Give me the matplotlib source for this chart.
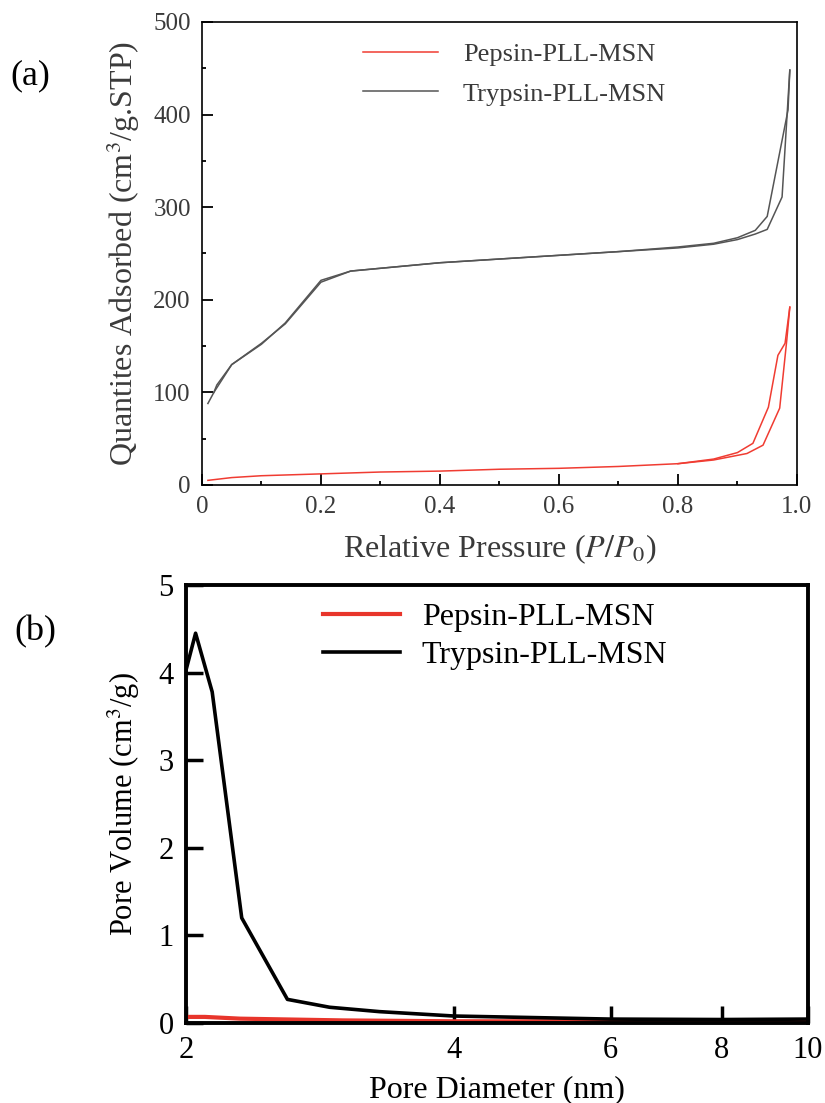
import numpy as np
import matplotlib.pyplot as plt
from matplotlib.ticker import MultipleLocator, FixedLocator, NullLocator, FixedFormatter, FuncFormatter

plt.rcParams['font.family'] = ['Liberation Serif', 'DejaVu Serif']
plt.rcParams['mathtext.fontset'] = 'stix'

# (a) N2 isotherms
tryp_ads_x = [0.01, 0.02, 0.025, 0.05, 0.1, 0.14, 0.2, 0.25, 0.3, 0.4, 0.5, 0.6, 0.7, 0.8, 0.86, 0.9, 0.93, 0.95, 0.975, 0.988]
tryp_ads_y = [88, 100, 108, 130, 153, 174, 219, 231, 234, 240, 244, 248, 252, 256, 260, 265, 271, 276, 311, 448]
tryp_des_x = [0.988, 0.985, 0.95, 0.93, 0.9, 0.86, 0.8, 0.7, 0.6, 0.5, 0.4, 0.3, 0.25, 0.2, 0.14, 0.1, 0.05, 0.03, 0.02]
tryp_des_y = [448, 405, 290, 275, 267, 261, 257, 252, 248, 244, 240, 234, 231, 221, 175, 152, 130, 110, 100]

peps_ads_x = [0.01, 0.05, 0.1, 0.2, 0.3, 0.4, 0.5, 0.6, 0.7, 0.8, 0.86, 0.916, 0.943, 0.971, 0.983, 0.988]
peps_ads_y = [5, 8, 10, 12, 14, 15, 17, 18, 20, 23, 27, 34, 43, 83, 157, 192]
peps_des_x = [0.988, 0.98, 0.968, 0.952, 0.926, 0.9, 0.86, 0.8]
peps_des_y = [192, 153, 140, 84, 45, 35, 28, 23]

# (b) pore size distribution
diam_tryp = [2.0, 2.05, 2.14, 2.31, 2.60, 2.90, 3.3, 4.0, 6.0, 8.0, 10.0]
vol_tryp = [4.03, 4.45, 3.78, 1.20, 0.27, 0.18, 0.13, 0.08, 0.045, 0.04, 0.045]
diam_peps = [2.0, 2.1, 2.3, 3.0, 4.0, 6.0, 8.0, 10.0]
vol_peps = [0.07, 0.07, 0.05, 0.03, 0.02, 0.02, 0.015, 0.01]

fig = plt.figure(figsize=(8.25, 11.03), dpi=100)

# ---- panel (a)
txt = '#3a3a3a'
ax1 = fig.add_axes([0.2448, 0.5603, 0.7212, 0.4198])
ax1.plot(peps_ads_x, peps_ads_y, color='#f03c32', lw=1.1, label='Pepsin-PLL-MSN')
ax1.plot(peps_des_x, peps_des_y, color='#f03c32', lw=1.1)
ax1.plot(tryp_ads_x, tryp_ads_y, color='#555555', lw=1.1, label='Trypsin-PLL-MSN')
ax1.plot(tryp_des_x, tryp_des_y, color='#555555', lw=1.1)
ax1.set_xlim(0, 1.0)
ax1.set_ylim(0, 500)
ax1.xaxis.set_major_locator(MultipleLocator(0.2))
ax1.xaxis.set_minor_locator(MultipleLocator(0.1))
ax1.yaxis.set_major_locator(MultipleLocator(100))
ax1.yaxis.set_minor_locator(MultipleLocator(50))
ax1.xaxis.set_major_formatter(FuncFormatter(lambda v, p: '0' if abs(v) < 1e-9 else '%.1f' % v))
ax1.tick_params(which='both', direction='in', top=False, right=False,
                labelsize=18, labelcolor=txt, width=1.3)
ax1.tick_params(which='major', length=8, pad=8)
ax1.tick_params(which='minor', length=3)
for s in ax1.spines.values():
    s.set_linewidth(1.2)
ax1.set_xlabel('Relative Pressure ($\\mathit{P/P_0}$)', fontsize=23, color=txt, labelpad=10)
ax1.set_ylabel('Quantites Adsorbed (cm$^3$/g.STP)', fontsize=23, color=txt, labelpad=8)
leg1 = ax1.legend(loc='upper left', bbox_to_anchor=(0.27, 0.955), frameon=False,
                  borderpad=0, borderaxespad=0,
                  fontsize=19, handlelength=2.85, handletextpad=0.95, labelspacing=0.6)
for t in leg1.get_texts():
    t.set_color(txt)
fig.text(0.012, 0.931, '(a)', fontsize=26, va='center')

# ---- panel (b)
ax2 = fig.add_axes([0.2255, 0.0725, 0.7539, 0.3971])
ax2.plot(diam_peps, vol_peps, color='#e8352b', lw=3, label='Pepsin-PLL-MSN')
ax2.plot(diam_tryp, vol_tryp, color='black', lw=2.6, label='Trypsin-PLL-MSN')
ax2.set_xscale('log')
ax2.set_xlim(2, 10)
ax2.set_ylim(0, 5)
ax2.xaxis.set_major_locator(FixedLocator([2, 4, 6, 8, 10]))
ax2.xaxis.set_major_formatter(FixedFormatter(['2', '4', '6', '8', '10']))
ax2.xaxis.set_minor_locator(NullLocator())
ax2.yaxis.set_major_locator(MultipleLocator(1))
ax2.tick_params(direction='in', length=12, width=2.5, labelsize=22, pad=9,
                top=False, right=False)
for s in ax2.spines.values():
    s.set_linewidth(2.8)
ax2.set_xlabel('Pore Diameter (nm)', fontsize=23, labelpad=8)
ax2.set_ylabel('Pore Volume (cm$^3$/g)', fontsize=22, labelpad=12)
ax2.legend(loc='upper left', bbox_to_anchor=(0.22, 0.96), frameon=False,
           borderpad=0, borderaxespad=0,
           fontsize=23, handlelength=2.4, handletextpad=0.7, labelspacing=0.28)
fig.text(0.018, 0.427, '(b)', fontsize=26, va='center')

fig.savefig('out.png', dpi=100)
